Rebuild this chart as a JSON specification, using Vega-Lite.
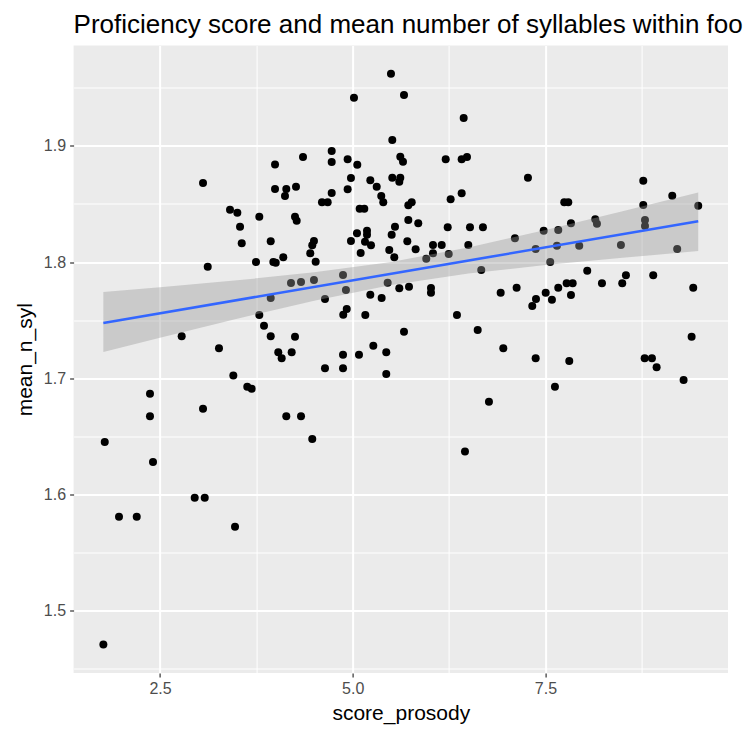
{
  "$schema": "https://vega.github.io/schema/vega-lite/v6.json",
  "autosize": {"type": "none"},
  "padding": {"left": 73.6, "top": 45.5, "right": 16, "bottom": 56},
  "width": 654.4,
  "height": 627.5,
  "title": {
    "text": "Proficiency score and mean number of syllables within foo",
    "anchor": "start",
    "frame": "group",
    "font": "Liberation Sans",
    "fontSize": 26,
    "fontWeight": "normal",
    "color": "black",
    "offset": 8
  },
  "datasets": {
    "scores": [
      {"score_prosody": 3.992, "mean_n_syl": 1.884}, {"score_prosody": 3.058, "mean_n_syl": 1.868},
      {"score_prosody": 3.992, "mean_n_syl": 1.863}, {"score_prosody": 4.138, "mean_n_syl": 1.863},
      {"score_prosody": 4.121, "mean_n_syl": 1.857}, {"score_prosody": 3.408, "mean_n_syl": 1.845},
      {"score_prosody": 3.503, "mean_n_syl": 1.8425}, {"score_prosody": 3.788, "mean_n_syl": 1.839},
      {"score_prosody": 3.538, "mean_n_syl": 1.8304}, {"score_prosody": 3.56, "mean_n_syl": 1.8161},
      {"score_prosody": 3.936, "mean_n_syl": 1.8178}, {"score_prosody": 3.119, "mean_n_syl": 1.7959},
      {"score_prosody": 3.745, "mean_n_syl": 1.8}, {"score_prosody": 3.97, "mean_n_syl": 1.8},
      {"score_prosody": 4.001, "mean_n_syl": 1.7994}, {"score_prosody": 4.099, "mean_n_syl": 1.8041},
      {"score_prosody": 4.199, "mean_n_syl": 1.7819}, {"score_prosody": 3.936, "mean_n_syl": 1.769},
      {"score_prosody": 3.788, "mean_n_syl": 1.7543}, {"score_prosody": 3.849, "mean_n_syl": 1.7451},
      {"score_prosody": 3.936, "mean_n_syl": 1.736}, {"score_prosody": 2.781, "mean_n_syl": 1.736},
      {"score_prosody": 3.265, "mean_n_syl": 1.7256}, {"score_prosody": 4.034, "mean_n_syl": 1.7222},
      {"score_prosody": 4.078, "mean_n_syl": 1.717}, {"score_prosody": 4.208, "mean_n_syl": 1.7222},
      {"score_prosody": 4.251, "mean_n_syl": 1.7356}, {"score_prosody": 3.451, "mean_n_syl": 1.7023},
      {"score_prosody": 3.632, "mean_n_syl": 1.6925}, {"score_prosody": 3.689, "mean_n_syl": 1.6908},
      {"score_prosody": 2.37, "mean_n_syl": 1.6865}, {"score_prosody": 3.058, "mean_n_syl": 1.6735},
      {"score_prosody": 2.37, "mean_n_syl": 1.667}, {"score_prosody": 4.138, "mean_n_syl": 1.667},
      {"score_prosody": 1.783, "mean_n_syl": 1.6448}, {"score_prosody": 2.409, "mean_n_syl": 1.6276},
      {"score_prosody": 2.95, "mean_n_syl": 1.5968}, {"score_prosody": 3.08, "mean_n_syl": 1.5968},
      {"score_prosody": 1.968, "mean_n_syl": 1.5804}, {"score_prosody": 2.198, "mean_n_syl": 1.5804},
      {"score_prosody": 3.473, "mean_n_syl": 1.5718}, {"score_prosody": 1.765, "mean_n_syl": 1.4704},
      {"score_prosody": 5.496, "mean_n_syl": 1.9623}, {"score_prosody": 5.016, "mean_n_syl": 1.9416},
      {"score_prosody": 5.665, "mean_n_syl": 1.944}, {"score_prosody": 6.439, "mean_n_syl": 1.9241},
      {"score_prosody": 5.513, "mean_n_syl": 1.9052}, {"score_prosody": 4.355, "mean_n_syl": 1.8905},
      {"score_prosody": 4.727, "mean_n_syl": 1.8957}, {"score_prosody": 4.727, "mean_n_syl": 1.8862},
      {"score_prosody": 4.934, "mean_n_syl": 1.8885}, {"score_prosody": 5.059, "mean_n_syl": 1.8839},
      {"score_prosody": 5.617, "mean_n_syl": 1.8908}, {"score_prosody": 5.652, "mean_n_syl": 1.8865},
      {"score_prosody": 6.206, "mean_n_syl": 1.8885}, {"score_prosody": 6.413, "mean_n_syl": 1.8885},
      {"score_prosody": 6.482, "mean_n_syl": 1.8905}, {"score_prosody": 4.977, "mean_n_syl": 1.8724},
      {"score_prosody": 4.934, "mean_n_syl": 1.8627}, {"score_prosody": 5.228, "mean_n_syl": 1.8704},
      {"score_prosody": 5.311, "mean_n_syl": 1.8649}, {"score_prosody": 5.513, "mean_n_syl": 1.8727},
      {"score_prosody": 5.617, "mean_n_syl": 1.8727}, {"score_prosody": 5.604, "mean_n_syl": 1.8692},
      {"score_prosody": 4.264, "mean_n_syl": 1.8649}, {"score_prosody": 4.727, "mean_n_syl": 1.8595},
      {"score_prosody": 4.601, "mean_n_syl": 1.8515}, {"score_prosody": 4.675, "mean_n_syl": 1.8515},
      {"score_prosody": 5.37, "mean_n_syl": 1.857}, {"score_prosody": 5.396, "mean_n_syl": 1.8515},
      {"score_prosody": 6.413, "mean_n_syl": 1.8592}, {"score_prosody": 6.27, "mean_n_syl": 1.854},
      {"score_prosody": 5.09, "mean_n_syl": 1.8459}, {"score_prosody": 5.15, "mean_n_syl": 1.8459},
      {"score_prosody": 5.721, "mean_n_syl": 1.8489}, {"score_prosody": 5.765, "mean_n_syl": 1.8515},
      {"score_prosody": 4.251, "mean_n_syl": 1.8391}, {"score_prosody": 4.273, "mean_n_syl": 1.8356},
      {"score_prosody": 5.721, "mean_n_syl": 1.8362}, {"score_prosody": 5.85, "mean_n_syl": 1.8334},
      {"score_prosody": 5.548, "mean_n_syl": 1.8304}, {"score_prosody": 5.505, "mean_n_syl": 1.8235},
      {"score_prosody": 5.185, "mean_n_syl": 1.827}, {"score_prosody": 5.185, "mean_n_syl": 1.8235},
      {"score_prosody": 5.055, "mean_n_syl": 1.8247}, {"score_prosody": 4.977, "mean_n_syl": 1.8181},
      {"score_prosody": 5.159, "mean_n_syl": 1.8175}, {"score_prosody": 5.237, "mean_n_syl": 1.8144},
      {"score_prosody": 5.103, "mean_n_syl": 1.8078}, {"score_prosody": 4.497, "mean_n_syl": 1.8181},
      {"score_prosody": 4.475, "mean_n_syl": 1.8144}, {"score_prosody": 4.449, "mean_n_syl": 1.8075},
      {"score_prosody": 4.519, "mean_n_syl": 1.8003}, {"score_prosody": 5.474, "mean_n_syl": 1.8103},
      {"score_prosody": 5.539, "mean_n_syl": 1.8041}, {"score_prosody": 5.708, "mean_n_syl": 1.8178},
      {"score_prosody": 5.816, "mean_n_syl": 1.8109}, {"score_prosody": 6.041, "mean_n_syl": 1.8147},
      {"score_prosody": 6.154, "mean_n_syl": 1.8147}, {"score_prosody": 6.232, "mean_n_syl": 1.8299},
      {"score_prosody": 6.521, "mean_n_syl": 1.8299}, {"score_prosody": 6.689, "mean_n_syl": 1.8299},
      {"score_prosody": 6.499, "mean_n_syl": 1.8147}, {"score_prosody": 6.041, "mean_n_syl": 1.8075},
      {"score_prosody": 5.954, "mean_n_syl": 1.8028}, {"score_prosody": 6.245, "mean_n_syl": 1.8069},
      {"score_prosody": 6.667, "mean_n_syl": 1.7931}, {"score_prosody": 4.874, "mean_n_syl": 1.7888},
      {"score_prosody": 4.329, "mean_n_syl": 1.7828}, {"score_prosody": 4.497, "mean_n_syl": 1.7845},
      {"score_prosody": 4.912, "mean_n_syl": 1.7759}, {"score_prosody": 4.64, "mean_n_syl": 1.7681},
      {"score_prosody": 5.453, "mean_n_syl": 1.7822}, {"score_prosody": 5.228, "mean_n_syl": 1.7718},
      {"score_prosody": 5.375, "mean_n_syl": 1.769}, {"score_prosody": 5.604, "mean_n_syl": 1.7773},
      {"score_prosody": 5.73, "mean_n_syl": 1.7787}, {"score_prosody": 6.015, "mean_n_syl": 1.7776},
      {"score_prosody": 6.015, "mean_n_syl": 1.7735}, {"score_prosody": 6.919, "mean_n_syl": 1.7735},
      {"score_prosody": 4.922, "mean_n_syl": 1.7595}, {"score_prosody": 4.877, "mean_n_syl": 1.7546},
      {"score_prosody": 5.163, "mean_n_syl": 1.7543}, {"score_prosody": 6.352, "mean_n_syl": 1.7543},
      {"score_prosody": 5.665, "mean_n_syl": 1.7399}, {"score_prosody": 6.621, "mean_n_syl": 1.7414},
      {"score_prosody": 5.267, "mean_n_syl": 1.7278}, {"score_prosody": 5.435, "mean_n_syl": 1.7222},
      {"score_prosody": 4.874, "mean_n_syl": 1.7201}, {"score_prosody": 5.081, "mean_n_syl": 1.7201},
      {"score_prosody": 6.953, "mean_n_syl": 1.7256}, {"score_prosody": 4.64, "mean_n_syl": 1.7084},
      {"score_prosody": 4.874, "mean_n_syl": 1.7084}, {"score_prosody": 5.435, "mean_n_syl": 1.7034},
      {"score_prosody": 4.329, "mean_n_syl": 1.667}, {"score_prosody": 4.475, "mean_n_syl": 1.6474},
      {"score_prosody": 6.767, "mean_n_syl": 1.6796}, {"score_prosody": 6.456, "mean_n_syl": 1.6368},
      {"score_prosody": 7.273, "mean_n_syl": 1.8727}, {"score_prosody": 8.769, "mean_n_syl": 1.8701},
      {"score_prosody": 7.744, "mean_n_syl": 1.8515}, {"score_prosody": 7.796, "mean_n_syl": 1.8515},
      {"score_prosody": 8.769, "mean_n_syl": 1.8491}, {"score_prosody": 9.145, "mean_n_syl": 1.8572},
      {"score_prosody": 9.482, "mean_n_syl": 1.8485}, {"score_prosody": 7.104, "mean_n_syl": 1.8204},
      {"score_prosody": 7.477, "mean_n_syl": 1.827}, {"score_prosody": 7.666, "mean_n_syl": 1.8276},
      {"score_prosody": 7.831, "mean_n_syl": 1.8334}, {"score_prosody": 8.146, "mean_n_syl": 1.8368},
      {"score_prosody": 8.168, "mean_n_syl": 1.833}, {"score_prosody": 8.791, "mean_n_syl": 1.8362},
      {"score_prosody": 8.791, "mean_n_syl": 1.831}, {"score_prosody": 7.373, "mean_n_syl": 1.8112},
      {"score_prosody": 7.649, "mean_n_syl": 1.8141}, {"score_prosody": 7.938, "mean_n_syl": 1.8141},
      {"score_prosody": 8.479, "mean_n_syl": 1.8147}, {"score_prosody": 9.209, "mean_n_syl": 1.8112},
      {"score_prosody": 7.562, "mean_n_syl": 1.8}, {"score_prosody": 8.042, "mean_n_syl": 1.7925},
      {"score_prosody": 8.544, "mean_n_syl": 1.7885}, {"score_prosody": 8.496, "mean_n_syl": 1.7816},
      {"score_prosody": 8.898, "mean_n_syl": 1.7885}, {"score_prosody": 8.233, "mean_n_syl": 1.7816},
      {"score_prosody": 7.775, "mean_n_syl": 1.7816}, {"score_prosody": 7.853, "mean_n_syl": 1.7816},
      {"score_prosody": 7.666, "mean_n_syl": 1.7778}, {"score_prosody": 7.831, "mean_n_syl": 1.7716},
      {"score_prosody": 7.503, "mean_n_syl": 1.7735}, {"score_prosody": 7.584, "mean_n_syl": 1.7675},
      {"score_prosody": 7.377, "mean_n_syl": 1.7681}, {"score_prosody": 7.329, "mean_n_syl": 1.7621},
      {"score_prosody": 7.126, "mean_n_syl": 1.7778}, {"score_prosody": 9.417, "mean_n_syl": 1.7778},
      {"score_prosody": 9.396, "mean_n_syl": 1.7356}, {"score_prosody": 7.373, "mean_n_syl": 1.717},
      {"score_prosody": 7.809, "mean_n_syl": 1.7147}, {"score_prosody": 8.787, "mean_n_syl": 1.717},
      {"score_prosody": 8.881, "mean_n_syl": 1.717}, {"score_prosody": 8.942, "mean_n_syl": 1.7092},
      {"score_prosody": 9.292, "mean_n_syl": 1.6983}, {"score_prosody": 7.623, "mean_n_syl": 1.6925}
    ],
    "ci_band": [
      {"score_prosody": 1.765, "mean_n_syl": 1.7225, "upper": 1.7741},
      {"score_prosody": 2.5, "mean_n_syl": 1.7348, "upper": 1.7782},
      {"score_prosody": 3.5, "mean_n_syl": 1.7512, "upper": 1.7842},
      {"score_prosody": 4.5, "mean_n_syl": 1.7667, "upper": 1.7911},
      {"score_prosody": 5.5, "mean_n_syl": 1.7801, "upper": 1.8001},
      {"score_prosody": 6.5, "mean_n_syl": 1.79, "upper": 1.8126},
      {"score_prosody": 7.5, "mean_n_syl": 1.7974, "upper": 1.8276},
      {"score_prosody": 8.5, "mean_n_syl": 1.8036, "upper": 1.8438},
      {"score_prosody": 9.482, "mean_n_syl": 1.8094, "upper": 1.86}
    ]
  },
  "config": {
    "view": {"fill": "#EBEBEB", "stroke": null},
    "axis": {
      "domain": false,
      "grid": true,
      "gridColor": "#FFFFFF",
      "tickColor": "#333333",
      "tickSize": 4,
      "tickWidth": 1.2,
      "labelColor": "#4D4D4D",
      "labelFont": "Liberation Sans",
      "labelFontSize": 16,
      "titleFont": "Liberation Sans",
      "titleFontSize": 21,
      "titleFontWeight": "normal",
      "titleColor": "#000000"
    }
  },
  "encoding": {
    "x": {
      "field": "score_prosody",
      "type": "quantitative",
      "scale": {"domain": [1.379, 9.868], "nice": false, "zero": false},
      "axis": {
        "title": "score_prosody",
        "values": [2.5, 3.75, 5, 6.25, 7.5, 8.75],
        "labelExpr": "datum.value % 2.5 == 0 ? format(datum.value, '.1f') : ''",
        "gridWidth": {"condition": {"test": "datum.value % 2.5 != 0", "value": 1}, "value": 2},
        "tickOpacity": {"condition": {"test": "datum.value % 2.5 != 0", "value": 0}, "value": 1},
        "labelPadding": 3,
        "titlePadding": 6
      }
    },
    "y": {
      "field": "mean_n_syl",
      "type": "quantitative",
      "scale": {"domain": [1.4458, 1.9866], "nice": false, "zero": false},
      "axis": {
        "title": "mean_n_syl",
        "values": [1.45, 1.5, 1.55, 1.6, 1.65, 1.7, 1.75, 1.8, 1.85, 1.9, 1.95],
        "labelExpr": "abs(round(datum.value * 10) - datum.value * 10) > 0.01 ? '' : format(datum.value, '.1f')",
        "gridWidth": {"condition": {"test": "abs(round(datum.value * 10) - datum.value * 10) > 0.01", "value": 1}, "value": 2},
        "tickOpacity": {"condition": {"test": "abs(round(datum.value * 10) - datum.value * 10) > 0.01", "value": 0}, "value": 1},
        "labelPadding": 4,
        "titlePadding": 8
      }
    }
  },
  "layer": [
    {
      "data": {"name": "scores"},
      "mark": {"type": "circle", "size": 64, "color": "#000000", "opacity": 1}
    },
    {
      "data": {"name": "ci_band"},
      "mark": {"type": "area", "color": "#999999", "opacity": 0.4},
      "encoding": {
        "y2": {"field": "upper"}
      }
    },
    {
      "data": {"name": "scores"},
      "transform": [{"regression": "mean_n_syl", "on": "score_prosody"}],
      "mark": {"type": "line", "color": "#3366FF", "strokeWidth": 2.6}
    }
  ]
}
